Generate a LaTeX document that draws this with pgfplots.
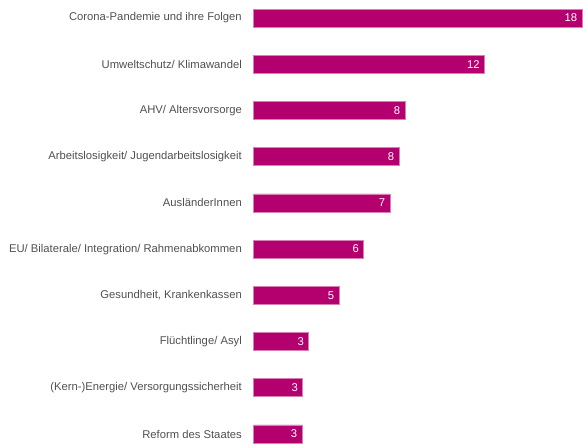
\documentclass[border=0pt]{standalone}
\usepackage{fontspec}
\setmainfont{Liberation Sans}
\usepackage{pgfplots}
\pgfplotsset{compat=1.18}
\usepackage{pgfplotstable}
\definecolor{barc}{HTML}{B4006E}
\definecolor{bare}{HTML}{D97FB4}
\definecolor{txt}{HTML}{505050}

\pgfplotstableread{
idx val lab
0 18 18
1 12.65 12
2 8.3 8
3 7.97 8
4 7.48 7
5 6.04 6
6 4.68 5
7 3.02 3
8 2.7 3
9 2.66 3
}\data

\begin{document}
\begin{tikzpicture}
\path (0,0) rectangle (583bp,446bp);
\begin{axis}[
  at={(253.5bp,0)}, anchor=south west,
  scale only axis, width=328.5bp, height=446bp,
  xmin=0, xmax=18, ymin=-0.39, ymax=9.26, y dir=reverse,
  xbar, bar width=18bp,
  axis line style={draw=none},
  xtick=\empty,
  ytick={0,...,9},
  yticklabels={Corona-Pandemie und ihre Folgen,Umweltschutz/ Klimawandel,AHV/ Altersvorsorge,Arbeitslosigkeit/ Jugendarbeitslosigkeit,AusländerInnen,EU/ Bilaterale/ Integration/ Rahmenabkommen,{Gesundheit, Krankenkassen},Flüchtlinge/ Asyl,(Kern-)Energie/ Versorgungssicherheit,Reform des Staates},
  major tick length=0pt,
  yticklabel style={anchor=east, inner sep=0pt, xshift=-11.5bp, text=txt, font=\fontsize{11.3}{13}\selectfont},
  nodes near coords,
  point meta=explicit symbolic,
  nodes near coords style={anchor=east, inner sep=0pt, xshift=-4.5bp, text=white, font=\fontsize{11.3}{13}\selectfont},
  clip=false,
]
\addplot[fill=barc, draw=bare, line width=0.6bp] table[x=val, y=idx, meta=lab]{\data};
\end{axis}
\end{tikzpicture}
\end{document}
